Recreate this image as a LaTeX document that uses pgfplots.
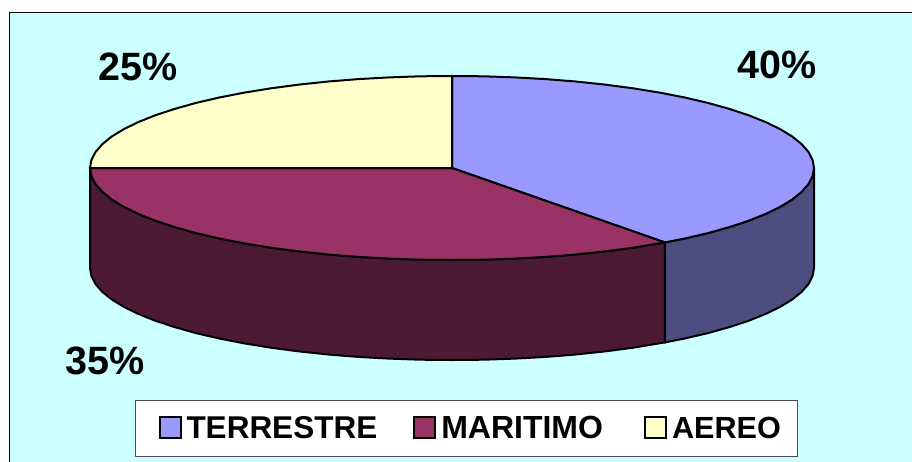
\documentclass[border=0pt]{standalone}
\usepackage{pgfplots}
\pgfplotsset{compat=1.18}
\usepackage{fontspec}
\setmainfont{Liberation Sans}
\definecolor{fondo}{HTML}{CCFFFF}
\definecolor{terrestre}{HTML}{9999FF}
\definecolor{maritimo}{HTML}{993366}
\definecolor{aereo}{HTML}{FFFFCC}
\definecolor{terrestreb}{HTML}{4D4D80}
\definecolor{maritimob}{HTML}{4D1A33}
\begin{document}
\begin{tikzpicture}
\begin{axis}[
  scale only axis,width=912pt,height=461pt,
  xmin=0,xmax=912,ymin=0,ymax=461,y dir=reverse,
  hide axis,
  legend columns=3,
  legend cell align=left,
  legend style={at={(axis cs:135,400)},anchor=north west,draw=black!70,fill=white,line width=1pt,
    inner xsep=14pt,inner ysep=13pt,
    font=\fontsize{31.5}{36}\selectfont\bfseries,
    /tikz/every even column/.append style={column sep=24pt},
    /tikz/every odd column/.append style={column sep=2pt},
    nodes={inner sep=3pt}},
  legend image code/.code={\path (0pt,0pt); \draw[#1,line width=2pt] (9pt,-10pt) rectangle (30pt,11pt);},
]
% fondo
\addplot[fill=white,draw=none,forget plot] coordinates {(0,0) (912,0) (912,461) (0,461)} -- cycle;
\addplot[fill=fondo,draw=black,line width=1pt,forget plot] coordinates {(9,12) (920,12) (920,470) (9,470)} -- cycle;
% paredes
\addplot[fill=terrestreb,draw=black,line width=2pt,forget plot] coordinates {
(664.8,242.4) (684.7,238.5) (708,233.1) (729.3,227.1) (748.5,220.8) (765.5,214) (780.1,206.9) (792.2,199.5) (801.7,191.8) (808.5,184) (812.6,176) (814,168)
(814,268) (812.6,276) (808.5,284) (801.7,291.8) (792.2,299.5) (780.1,306.9) (765.5,314) (748.5,320.8) (729.3,327.1) (708,333.1) (684.7,338.5) (664.8,342.4)
} -- cycle;
\addplot[fill=maritimob,draw=black,line width=2pt,forget plot] coordinates {
(664.8,242.4) (633,247.7) (605,251.4) (575.8,254.5) (545.7,256.9) (514.9,258.6) (483.6,259.7) (452,260) (420.4,259.7) (389.1,258.6) (358.3,256.9) (328.2,254.5) (299,251.4) (271,247.7) (244.4,243.4) (219.3,238.5) (196,233.1) (174.7,227.1) (155.5,220.8) (138.5,214) (123.9,206.9) (111.8,199.5) (102.3,191.8) (95.5,184) (91.4,176) (90,168)
(90,268) (91.4,276) (95.5,284) (102.3,291.8) (111.8,299.5) (123.9,306.9) (138.5,314) (155.5,320.8) (174.7,327.1) (196,333.1) (219.3,338.5) (244.4,343.4) (271,347.7) (299,351.4) (328.2,354.5) (358.3,356.9) (389.1,358.6) (420.4,359.7) (452,360) (483.6,359.7) (514.9,358.6) (545.7,356.9) (575.8,354.5) (605,351.4) (633,347.7) (664.8,342.4)
} -- cycle;
% sectores
\addplot[fill=terrestre,draw=black,line width=2pt] coordinates {
(452,168) (452,76) (483.6,76.3) (514.9,77.4) (545.7,79.1) (575.8,81.5) (605,84.6) (633,88.3) (659.6,92.6) (684.7,97.5) (708,102.9) (729.3,108.9) (748.5,115.2) (765.5,122) (780.1,129.1) (792.2,136.5) (801.7,144.2) (808.5,152) (812.6,160) (814,168) (812.6,176) (808.5,184) (801.7,191.8) (792.2,199.5) (780.1,206.9) (765.5,214) (748.5,220.8) (729.3,227.1) (708,233.1) (684.7,238.5) (664.8,242.4)
} -- cycle;
\addlegendentry{TERRESTRE}
\addplot[fill=maritimo,draw=black,line width=2pt] coordinates {
(452,168) (664.8,242.4) (633,247.7) (605,251.4) (575.8,254.5) (545.7,256.9) (514.9,258.6) (483.6,259.7) (452,260) (420.4,259.7) (389.1,258.6) (358.3,256.9) (328.2,254.5) (299,251.4) (271,247.7) (244.4,243.4) (219.3,238.5) (196,233.1) (174.7,227.1) (155.5,220.8) (138.5,214) (123.9,206.9) (111.8,199.5) (102.3,191.8) (95.5,184) (91.4,176) (90,168)
} -- cycle;
\addlegendentry{\fontsize{32}{36}\selectfont MARITIMO\hspace*{5pt}}
\addplot[fill=aereo,draw=black,line width=2pt] coordinates {
(452,168) (90,168) (91.4,160) (95.5,152) (102.3,144.2) (111.8,136.5) (123.9,129.1) (138.5,122) (155.5,115.2) (174.7,108.9) (196,102.9) (219.3,97.5) (244.4,92.6) (271,88.3) (299,84.6) (328.2,81.5) (358.3,79.1) (389.1,77.4) (420.4,76.3) (452,76)
} -- cycle;
\addlegendentry{\fontsize{30.6}{36}\selectfont AEREO}
\node[font=\fontsize{39.5}{44}\selectfont\bfseries,inner sep=0pt] at (axis cs:777.5,65) {40\%};
\node[font=\fontsize{39.5}{44}\selectfont\bfseries,inner sep=0pt] at (axis cs:138,67) {25\%};
\node[font=\fontsize{39.5}{44}\selectfont\bfseries,inner sep=0pt] at (axis cs:105,361) {35\%};
\end{axis}
\end{tikzpicture}
\end{document}
